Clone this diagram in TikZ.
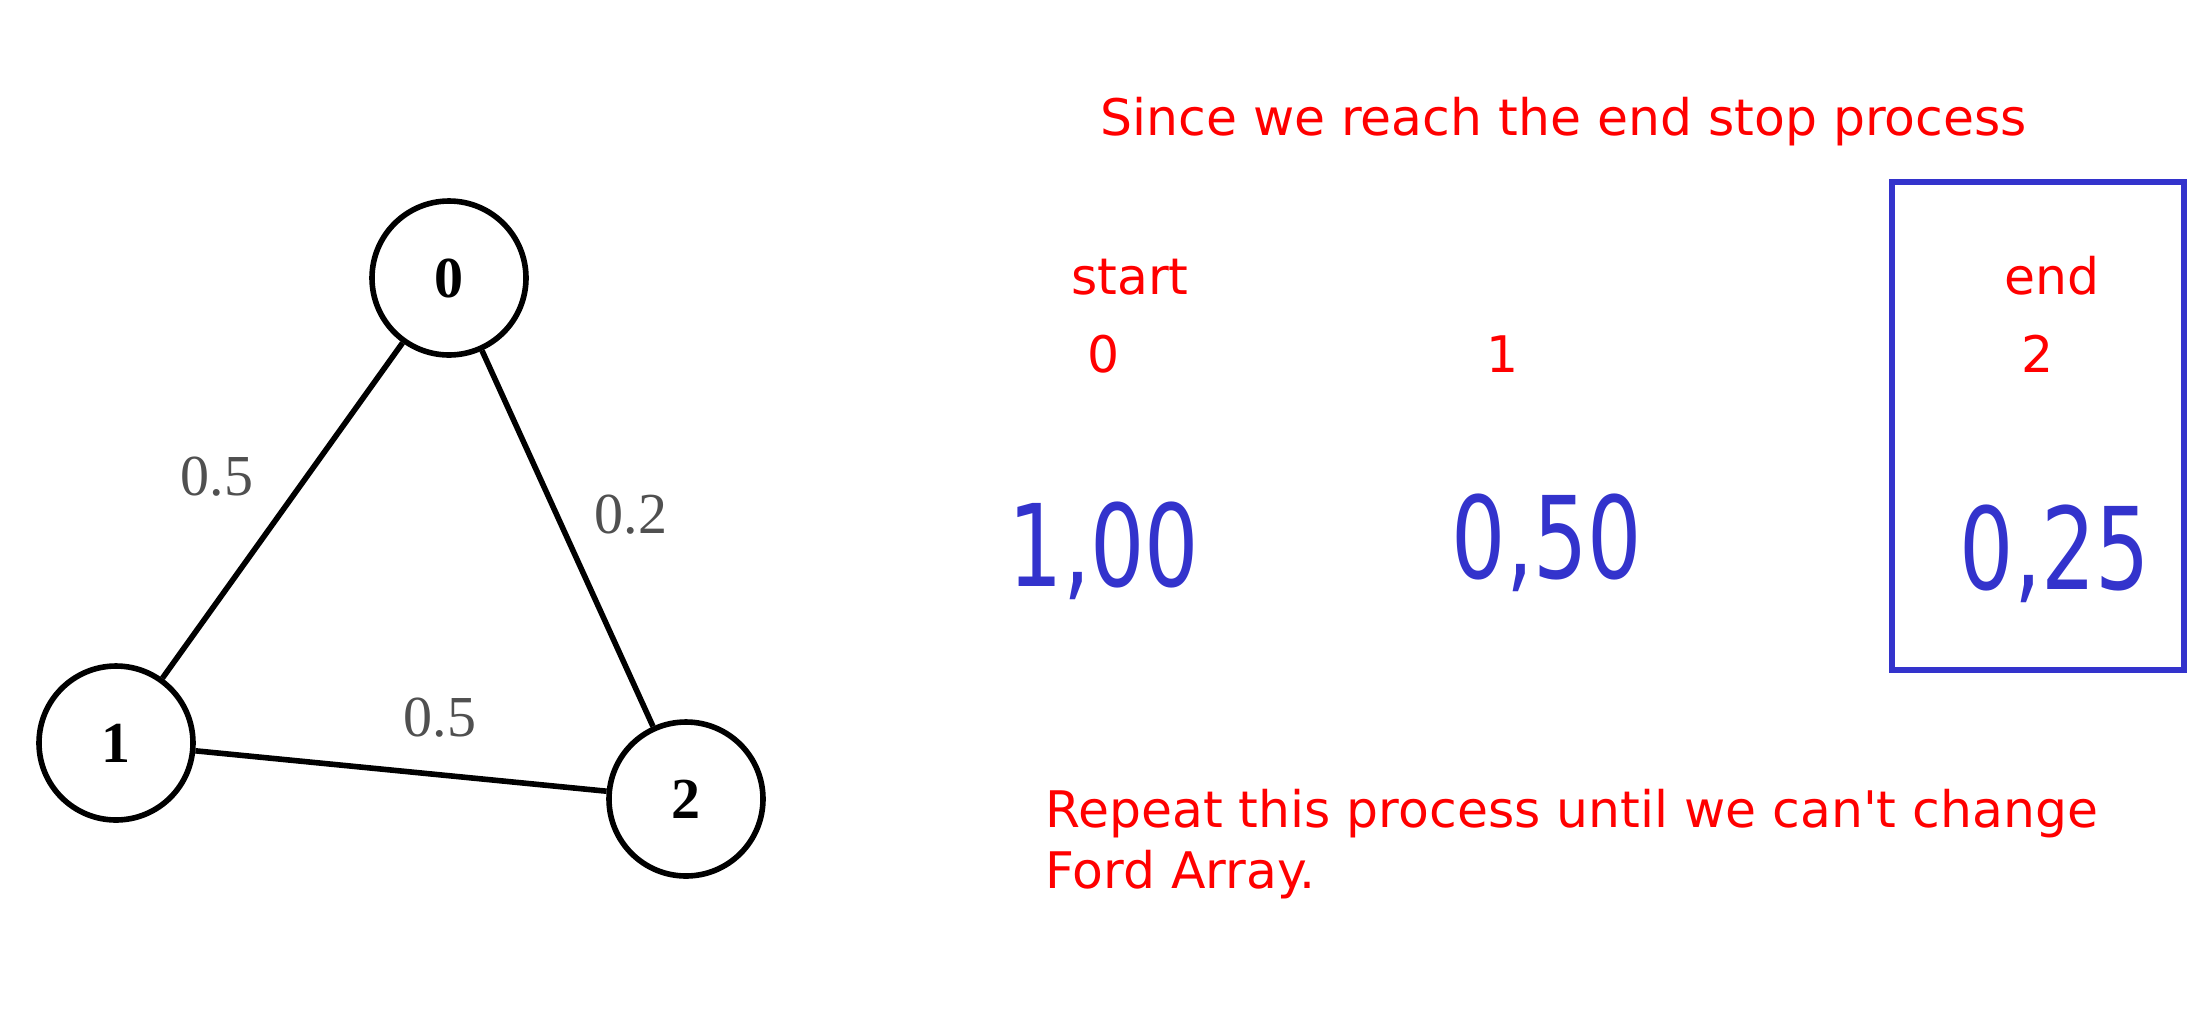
\documentclass[tikz,border=0pt]{standalone}
\usepackage{fontspec}
\usepackage{graphicx}
\setmainfont{Liberation Serif}
\newfontfamily\notefont{DejaVu Sans}
\definecolor{penblue}{RGB}{51,51,204}
\definecolor{weightgray}{RGB}{80,80,80}
\tikzset{
  vertex/.style={draw, circle, line width=2.8pt, minimum size=77pt, inner sep=0pt, font=\fontsize{29}{34}\selectfont\bfseries},
  edge/.style={line width=2.8pt},
  weight/.style={text=weightgray, font=\fontsize{29}{34}\selectfont},
  note/.style={text=red, inner sep=0pt, font=\notefont\fontsize{25.2}{30.5}\selectfont},
  pen/.style={text=penblue, inner sep=0pt, anchor=base, font=\notefont\fontsize{57}{60}\selectfont},
}
\begin{document}
\begin{tikzpicture}[x=0.5pt,y=0.5pt,yscale=-1,xscale=1]
\useasboundingbox (0,0) rectangle (2199,1034);

% graph
\draw (449,278) node (v0) [vertex] {0};
\draw (116,743) node (v1) [vertex] {1};
\draw (686,799) node (v2) [vertex] {2};
\draw [edge] (v0) -- (v1);
\draw [edge] (v0) -- (v2);
\draw [edge] (v1) -- (v2);
\draw (217,477) node (w01) [weight] {0.5};
\draw (631,515) node (w02) [weight] {0.2};
\draw (440,718) node (w12) [weight] {0.5};

% ford array
\draw (1100,135) node (title) [note, anchor=base west] {Since we reach the end stop process};
\draw (1130,294) node (start) [note, anchor=base] {start};
\draw (2052,294) node (end) [note, anchor=base] {end};
\draw (1104,372) node (i0) [note, anchor=base] {0};
\draw (1503,372) node (i1) [note, anchor=base] {1};
\draw (2038,372) node (i2) [note, anchor=base] {2};
\draw (1104,586) node (d0) [pen] {\scalebox{0.75}[1]{1,00}};
\draw (1547,578) node (d1) [pen] {\scalebox{0.75}[1]{0,50}};
\draw (2055,589) node (d2) [pen] {\scalebox{0.75}[1]{0,25}};
\draw [penblue, line width=2.8pt] (1892,182) rectangle (2184,670);

\draw (1045,888) node (repeat) [note, anchor=base west, align=left] {Repeat this process until we can\textquotesingle t change\\Ford Array.};
\end{tikzpicture}
\end{document}
